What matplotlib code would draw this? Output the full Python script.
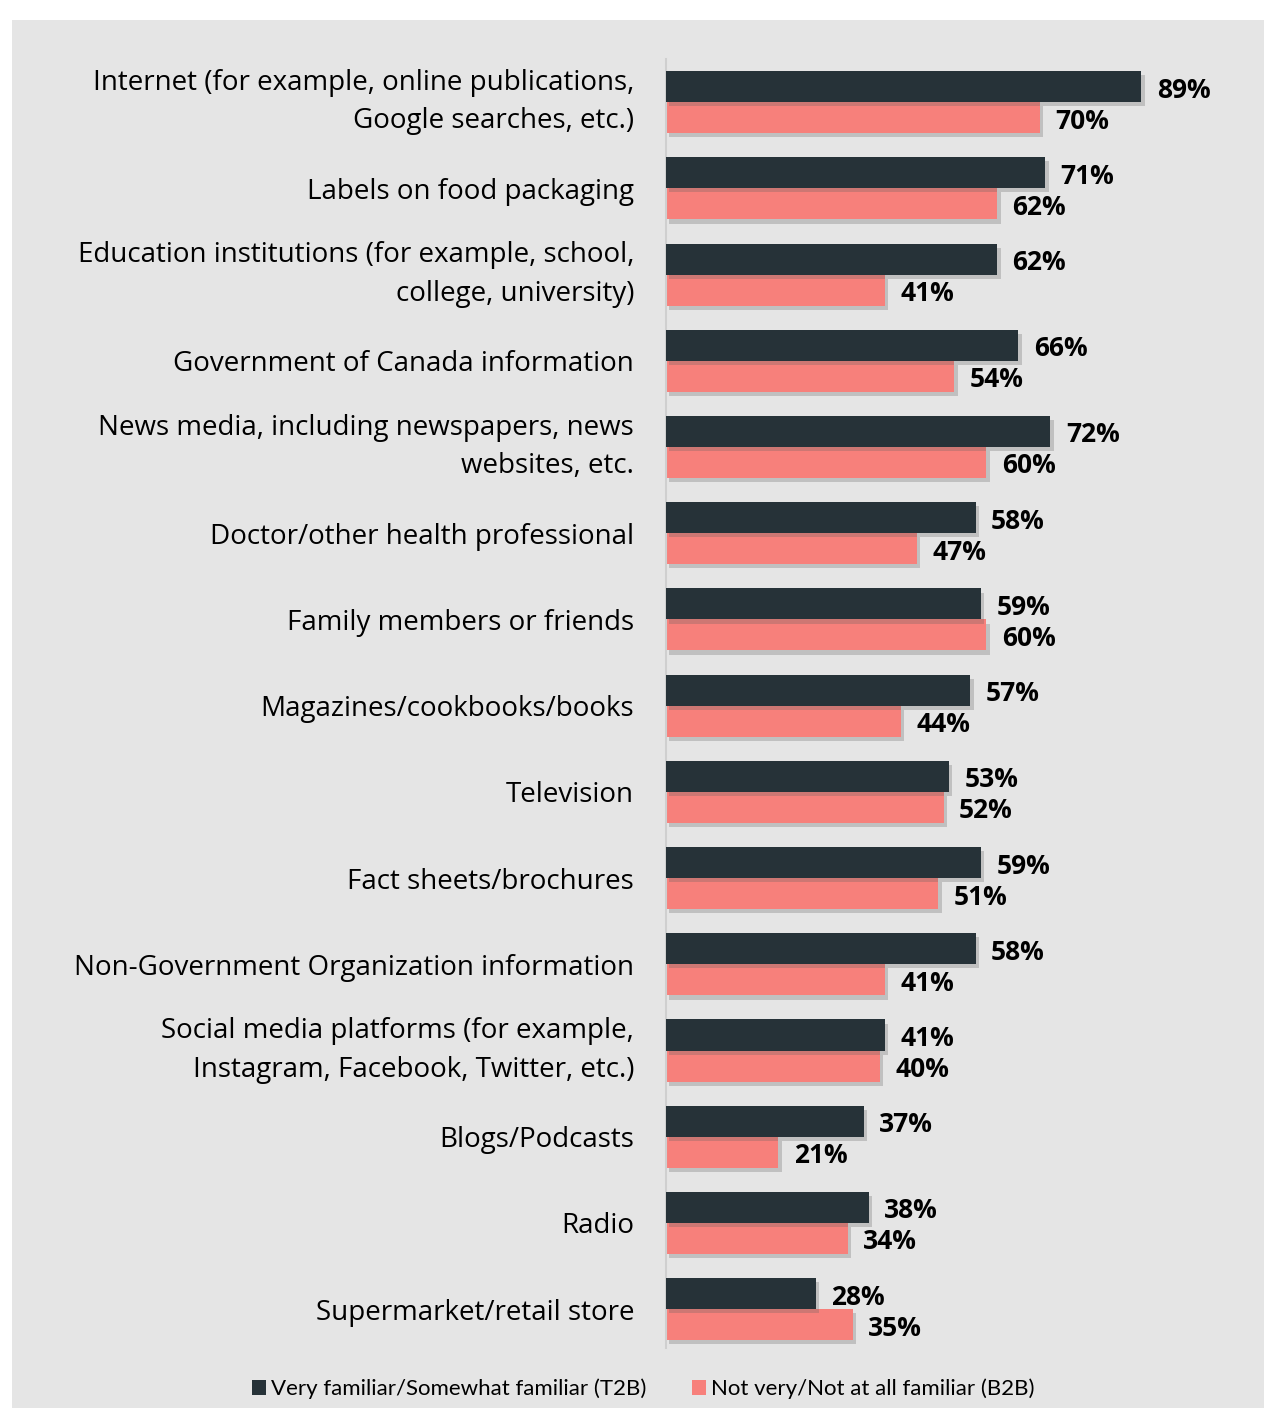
import matplotlib
matplotlib.use('Agg')
import matplotlib.pyplot as plt
import matplotlib.patheffects as pe
from matplotlib.patches import Rectangle, Patch
import numpy as np

categories = [
    'Internet (for example, online publications,\nGoogle searches, etc.)',
    'Labels on food packaging',
    'Education institutions (for example, school,\ncollege, university)',
    'Government of Canada information',
    'News media, including newspapers, news\nwebsites, etc.',
    'Doctor/other health professional',
    'Family members or friends',
    'Magazines/cookbooks/books',
    'Television',
    'Fact sheets/brochures',
    'Non-Government Organization information',
    'Social media platforms (for example,\nInstagram, Facebook, Twitter, etc.)',
    'Blogs/Podcasts',
    'Radio',
    'Supermarket/retail store',
]
t2b = [89, 71, 62, 66, 72, 58, 59, 57, 53, 59, 58, 41, 37, 38, 28]
b2b = [70, 62, 41, 54, 60, 47, 60, 44, 52, 51, 41, 40, 21, 34, 35]
series_names = ['Very familiar/Somewhat familiar (T2B)', 'Not very/Not at all familiar (B2B)']

dark = '#263238'
pink = '#f7807b'
bg = '#e5e5e5'

fig = plt.figure(figsize=(12.64, 14.08), dpi=100)
fig.patches.append(Rectangle((12 / 1264, 0), 1, 1 - 20 / 1408,
                             transform=fig.transFigure, facecolor=bg,
                             edgecolor='none', zorder=-5))

ax = fig.add_axes([666 / 1264, 1 - 1348 / 1408, 1 - 666 / 1264, 1289 / 1408])
ax.set_facecolor('none')

y = np.arange(len(categories))
h = 0.36
shadow = [pe.SimplePatchShadow(offset=(2.5, -3), shadow_rgbFace='#606060', alpha=0.28),
          pe.Normal()]

bars1 = ax.barh(y - h / 2, t2b, height=h, color=dark, zorder=3)
bars2 = ax.barh(y + h / 2, b2b, height=h, color=pink, zorder=2)
for b in list(bars1) + list(bars2):
    b.set_path_effects(shadow)

# value labels just past the end of each bar
for yi, v in zip(y, t2b):
    ax.text(v + 2.9, yi - h / 2 + 0.04, f'{v}%', va='center', ha='left',
            fontsize=19, fontweight='bold', family='Open Sans', color='black')
for yi, v in zip(y, b2b):
    ax.text(v + 2.9, yi + h / 2 + 0.04, f'{v}%', va='center', ha='left',
            fontsize=19, fontweight='bold', family='Open Sans', color='black')

ax.set_xlim(0, 112)
ax.set_ylim(14.45, -0.5)
ax.set_xticks([])
ax.set_yticks(y)
ax.set_yticklabels(categories, fontsize=20, family='Open Sans',
                   linespacing=1.5, ha='right')
for lbl in ax.get_yticklabels():
    if '\n' in lbl.get_text():
        lbl.set_va('center')
ax.tick_params(axis='y', length=0, pad=23)
for s in ['top', 'right', 'bottom']:
    ax.spines[s].set_visible(False)
ax.spines['left'].set_color('#cfcfcf')
ax.spines['left'].set_linewidth(1.5)

handles = [Patch(facecolor=dark), Patch(facecolor=pink)]
fig.legend(handles=handles, labels=series_names, loc='center',
           bbox_to_anchor=(643 / 1264, 1 - 1389 / 1408), ncol=2, frameon=False,
           prop={'family': 'Lato', 'size': 16}, handlelength=0.65,
           handleheight=0.65, handletextpad=0.2, columnspacing=2.05)

fig.savefig('out.png', dpi=100)
